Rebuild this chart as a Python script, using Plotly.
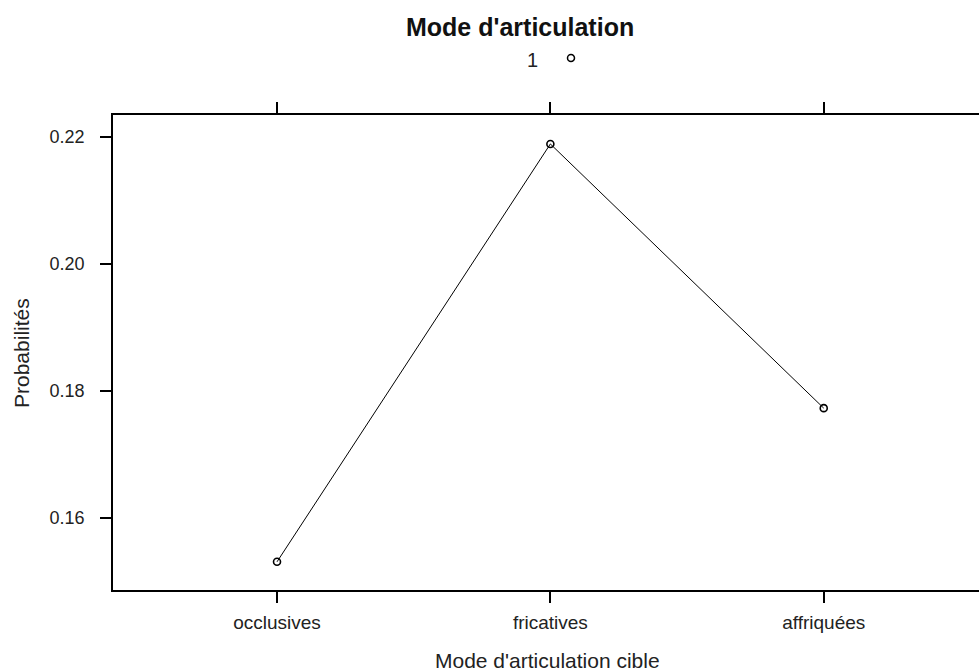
import plotly.graph_objects as go

categories = ["occlusives", "fricatives", "affriquées"]
probabilities = [0.1531, 0.2189, 0.1773]
y_ticks = [0.16, 0.18, 0.20, 0.22]
y_tick_labels = ["0.16", "0.18", "0.20", "0.22"]

W, H = 979, 671
L, T, B, R = 113, 115, 81, 0

fig = go.Figure()
fig.add_trace(go.Scatter(
    x=list(range(len(categories))), y=probabilities, mode="lines+markers",
    line=dict(color="black", width=1),
    marker=dict(symbol="circle-open", size=7, color="black", line=dict(width=1.6)),
    showlegend=False,
))

font = "Liberation Sans, Arial, sans-serif"
fig.update_layout(
    width=W, height=H, margin=dict(l=L, r=R, t=T, b=B),
    plot_bgcolor="white", paper_bgcolor="white",
    font=dict(family=font, color="black"),
    xaxis=dict(
        range=[-0.6, 2.568], tickmode="array",
        tickvals=list(range(len(categories))), ticktext=categories,
        showline=True, linecolor="black", linewidth=1.5, mirror="ticks",
        ticks="outside", ticklen=11, tickwidth=1.5, tickcolor="black",
        showgrid=False, zeroline=False, tickfont=dict(size=19, color="#222"),
        ticklabelstandoff=3,
    ),
    yaxis=dict(
        range=[0.14866, 0.22346], tickmode="array",
        tickvals=y_ticks, ticktext=y_tick_labels,
        showline=True, linecolor="black", linewidth=1.5, mirror=False,
        ticks="outside", ticklen=11, tickwidth=1.5, tickcolor="black",
        showgrid=False, zeroline=False, tickfont=dict(size=18, color="#222"),
        ticklabelstandoff=12,
    ),
)

def px_x(p):
    return (p - L) / (W - L - R)

def px_y(p):
    return 1 - (p - T) / (H - T - B)

fig.add_annotation(text="<b>Mode d'articulation</b>", x=px_x(520), y=px_y(27),
                   xref="paper", yref="paper", showarrow=False,
                   font=dict(size=25, family=font, color="#111"), xanchor="center", yanchor="middle")
fig.add_annotation(text="1", x=px_x(532), y=px_y(60),
                   xref="paper", yref="paper", showarrow=False,
                   font=dict(size=20, family=font, color="#222"), xanchor="center", yanchor="middle")
fig.add_shape(type="circle", xref="paper", yref="paper",
              xsizemode="pixel", ysizemode="pixel",
              xanchor=px_x(571), yanchor=px_y(58),
              x0=-3.5, x1=3.5, y0=-3.5, y1=3.5,
              line=dict(color="black", width=1.5))
fig.add_annotation(text="Mode d'articulation cible", x=px_x(547), y=px_y(660),
                   xref="paper", yref="paper", showarrow=False,
                   font=dict(size=21, family=font, color="#222"), xanchor="center", yanchor="middle")
fig.add_annotation(text="Probabilités", x=px_x(21), y=px_y(353), textangle=-90,
                   xref="paper", yref="paper", showarrow=False,
                   font=dict(size=21, family=font, color="#222"), xanchor="center", yanchor="middle")

fig.write_html("out.html", post_script="document.body.style.margin='0px';",
               config={"displayModeBar": False})
